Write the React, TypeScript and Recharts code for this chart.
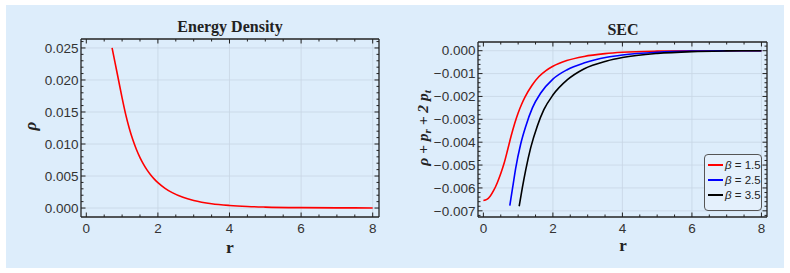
import React from 'react';
import { LineChart, Line, XAxis, YAxis, ReferenceLine, Legend } from 'recharts';

// ---------- data ----------
const rEnergy = [0.72, 0.8, 0.9, 1.0, 1.1, 1.2, 1.3, 1.4, 1.5, 1.6, 1.7, 1.8, 1.9, 2.0, 2.2, 2.4, 2.7, 3.0, 3.5, 4.0, 4.5, 5.0, 6.0, 7.0, 8.0];
const rhoEnergy = [0.025, 0.0228, 0.02, 0.0172, 0.01462, 0.01246, 0.01065, 0.00914, 0.00788, 0.00682, 0.00592, 0.00516, 0.00452, 0.00397, 0.00308, 0.0024, 0.00167, 0.00118, 0.00067, 0.0004, 0.00024, 0.00015, 0.00006, 0.000026, 0.000012];

const rBeta15 = [0.0, 0.1, 0.2, 0.3, 0.4, 0.5, 0.6, 0.7, 0.8, 0.9, 1.0, 1.1, 1.2, 1.4, 1.6, 1.8, 2.0, 2.4, 2.9, 3.5, 4.0, 5.0, 6.0, 8.0];
const secBeta15 = [-0.00655, -0.0065, -0.00635, -0.0061, -0.00577, -0.00537, -0.0049, -0.00432, -0.00372, -0.00318, -0.00272, -0.00234, -0.00202, -0.00151, -0.00113, -0.00087, -0.00068, -0.00043, -0.00025, -0.00013, -0.00007, -0.00002, -0.000005, 0.0];

const rBeta25 = [0.76, 0.84, 0.93, 1.07, 1.22, 1.41, 1.65, 2.0, 2.41, 2.89, 3.55, 4.0, 5.0, 6.0, 7.0, 8.0];
const secBeta25 = [-0.00677, -0.006, -0.00513, -0.0041, -0.0033, -0.0025, -0.00185, -0.00124, -0.00083, -0.00054, -0.00029, -0.00019, -0.00007, -0.00002, -0.000005, 0.0];

const rBeta35 = [1.03, 1.12, 1.22, 1.36, 1.55, 1.74, 2.0, 2.41, 2.89, 3.55, 4.0, 5.0, 6.0, 7.0, 8.0];
const secBeta35 = [-0.0068, -0.006, -0.0052, -0.00425, -0.0033, -0.00258, -0.00194, -0.00128, -0.0008, -0.00045, -0.0003, -0.00012, -0.00004, -0.00001, 0.0];

const betaLabels = ['β = 1.5', 'β = 2.5', 'β = 3.5'];
const betaColors = ['#ff0000', '#0000ff', '#000000'];

const xMajorTicks = [0, 2, 4, 6, 8];
const rhoMajorTicks = [0, 0.005, 0.01, 0.015, 0.02, 0.025];
const secMajorTicks = [0, -0.001, -0.002, -0.003, -0.004, -0.005, -0.006, -0.007];

const zip = (xs: number[], ys: number[]) => xs.map((r, i) => ({ r, v: ys[i] }));
const energyData = zip(rEnergy, rhoEnergy);
const secSeries = [zip(rBeta15, secBeta15), zip(rBeta25, secBeta25), zip(rBeta35, secBeta35)];

// axis tick positions (majors + minors)
const steps = (a: number, b: number, s: number) => {
  const out: number[] = [];
  const n = Math.round((b - a) / s);
  for (let i = 0; i <= n; i++) out.push(+(a + i * s).toFixed(6));
  return out;
};
const xAllTicks = steps(0, 8, 0.5);
const rhoAllTicks = steps(0, 0.026, 0.001);
const secAllTicks = steps(-0.0072, 0.0002, 0.0002);

// ---------- styles ----------
const BG = '#ddedfb';
const FRAME = '#222';
const GRID = '#c8d6e4';
const TICKFONT = '"Liberation Sans", Arial, sans-serif';
const SERIF = '"Liberation Serif", "Times New Roman", serif';

const fmtRho = (v: number) => v.toFixed(3);
const fmtSec = (v: number) => (Math.abs(v) < 1e-12 ? '0.000' : (v < 0 ? '\u2212' : '') + Math.abs(v).toFixed(3));
const fmtX = (v: number) => String(v);

const isMajor = (v: number, majors: number[]) => majors.some((m) => Math.abs(m - v) < 1e-9);

const makeTick = (side: 'bottom' | 'top' | 'left' | 'right', majors: number[], fmt: (v: number) => string, labels: boolean) =>
  (props: any) => {
    const { x, y, payload } = props;
    const v = payload.value as number;
    const major = isMajor(v, majors);
    const L = major ? 4.5 : 2.5;
    let line: [number, number, number, number];
    if (side === 'bottom') line = [x, y, x, y - L];
    else if (side === 'top') line = [x, y, x, y + L];
    else if (side === 'left') line = [x, y, x + L, y];
    else line = [x, y, x - L, y];
    let label = null;
    if (labels && major) {
      if (side === 'bottom')
        label = (
          <text x={x} y={y + 15.5} textAnchor="middle" fontFamily={TICKFONT} fontSize={13.5} fill="#333">
            {fmt(v)}
          </text>
        );
      else if (side === 'left')
        label = (
          <text x={x - 2.5} y={y + 4.7} textAnchor="end" fontFamily={TICKFONT} fontSize={13.5} fill="#333">
            {fmt(v)}
          </text>
        );
    }
    return (
      <g>
        <line x1={line[0]} y1={line[1]} x2={line[2]} y2={line[3]} stroke={FRAME} strokeWidth={1} />
        {label}
      </g>
    );
  };

const FixedText = (p: any) => (
  <text x={p.px} y={p.py} textAnchor="middle" fontFamily={SERIF} fontWeight="bold" fontSize={p.fs || 15} fill="#222">
    {p.txt}
  </text>
);

const RhoLabel = (p: any) => (
  <text x={p.px} y={p.py} textAnchor="middle" fontFamily={SERIF} fontWeight="bold" fontStyle="italic" fontSize={17} fill="#222" transform={`rotate(-90, ${p.px}, ${p.py})`}>
    ρ
  </text>
);

const SecLabel = (p: any) => (
  <text x={p.px} y={p.py} textAnchor="middle" fontFamily={SERIF} fontWeight="bold" fontStyle="italic" fontSize={15.5} fill="#222" transform={`rotate(-90, ${p.px}, ${p.py})`}>
    ρ + p<tspan dy={3} fontSize={11}>r</tspan>
    <tspan dy={-3}> + 2 p</tspan>
    <tspan dy={3} fontSize={11}>t</tspan>
  </text>
);

const LegendBox = (props: any) => {
  const payload = props.payload || [];
  return (
    <div
      style={{
        boxSizing: 'border-box',
        width: 58,
        height: 57,
        border: '1px solid #555',
        borderRadius: 4,
        background: '#e4f0fc',
        padding: '2px 0 0 3px',
        fontFamily: TICKFONT,
        fontSize: 11.5,
        color: '#222',
      }}
    >
      {payload.map((p: any, i: number) => {
        const idx = betaLabels.indexOf(String(p.value));
        const col = idx >= 0 ? betaColors[idx] : p.color;
        return (
          <div key={i} style={{ display: 'flex', alignItems: 'center', height: 15 }}>
            <span style={{ display: 'inline-block', width: 15, height: 2, background: col, marginRight: 2 }} />
            <span>
              <i>{String(p.value).charAt(0)}</i>
              {String(p.value).slice(1)}
            </span>
          </div>
        );
      })}
    </div>
  );
};

function EnergyChart() {
  const xDomain: [number, number] = [-0.148, 8.176];
  const yDomain: [number, number] = [-0.0014, 0.0264];
  return (
    <LineChart width={395} height={273} margin={{ top: 0, right: 0, bottom: 0, left: 0 }}>
      <XAxis xAxisId="b" dataKey="r" type="number" orientation="bottom" height={56} domain={xDomain} allowDataOverflow ticks={xAllTicks} interval={0} tickSize={0} tickMargin={0} tickLine={false} axisLine={{ stroke: FRAME, strokeWidth: 1.3 }} tick={makeTick('bottom', xMajorTicks, fmtX, true)} label={<FixedText px={230} py={253} txt="r" fs={17.5} />} />
      <XAxis xAxisId="t" dataKey="r" type="number" orientation="top" height={39} domain={xDomain} allowDataOverflow ticks={xAllTicks} interval={0} tickSize={0} tickMargin={0} tickLine={false} axisLine={{ stroke: FRAME, strokeWidth: 1.3 }} tick={makeTick('top', xMajorTicks, fmtX, false)} label={<FixedText px={230} py={32} txt="Energy Density" fs={16} />} />
      <YAxis yAxisId="l" type="number" orientation="left" width={81} domain={yDomain} allowDataOverflow ticks={rhoAllTicks} interval={0} tickSize={0} tickMargin={0} tickLine={false} axisLine={{ stroke: FRAME, strokeWidth: 1.3 }} tick={makeTick('left', rhoMajorTicks, fmtRho, true)} label={<RhoLabel px={36} py={126} />} />
      <YAxis yAxisId="r" type="number" orientation="right" width={16} domain={yDomain} allowDataOverflow ticks={rhoAllTicks} interval={0} tickSize={0} tickMargin={0} tickLine={false} axisLine={{ stroke: FRAME, strokeWidth: 1.3 }} tick={makeTick('right', rhoMajorTicks, fmtRho, false)} />
      {xMajorTicks.slice(1).map((t) => (
        <ReferenceLine key={'gx' + t} x={t} xAxisId="b" yAxisId="l" stroke={GRID} strokeWidth={0.8} />
      ))}
      {rhoMajorTicks.map((t) => (
        <ReferenceLine key={'gy' + t} y={t} xAxisId="b" yAxisId="l" stroke={GRID} strokeWidth={0.8} />
      ))}
      <Line xAxisId="b" yAxisId="l" data={energyData} dataKey="v" type="monotone" stroke="#ff0000" strokeWidth={1.6} dot={false} isAnimationActive={false} />
    </LineChart>
  );
}

function SecChart() {
  const xDomain: [number, number] = [-0.155, 8.16];
  const yDomain: [number, number] = [-0.00727, 0.00038];
  return (
    <LineChart width={395} height={273} margin={{ top: 0, right: 0, bottom: 0, left: 0 }}>
      <XAxis xAxisId="b" dataKey="r" type="number" orientation="bottom" height={56} domain={xDomain} allowDataOverflow ticks={xAllTicks} interval={0} tickSize={0} tickMargin={0} tickLine={false} axisLine={{ stroke: FRAME, strokeWidth: 1.3 }} tick={makeTick('bottom', xMajorTicks, fmtX, true)} label={<FixedText px={228} py={251} txt="r" fs={17} />} />
      <XAxis xAxisId="t" dataKey="r" type="number" orientation="top" height={42} domain={xDomain} allowDataOverflow ticks={xAllTicks} interval={0} tickSize={0} tickMargin={0} tickLine={false} axisLine={{ stroke: FRAME, strokeWidth: 1.3 }} tick={makeTick('top', xMajorTicks, fmtX, false)} label={<FixedText px={228} py={35} txt="SEC" fs={16} />} />
      <YAxis yAxisId="l" type="number" orientation="left" width={83} domain={yDomain} allowDataOverflow ticks={secAllTicks} interval={0} tickSize={0} tickMargin={0} tickLine={false} axisLine={{ stroke: FRAME, strokeWidth: 1.3 }} tick={makeTick('left', secMajorTicks, fmtSec, true)} label={<SecLabel px={33} py={128} />} />
      <YAxis yAxisId="r" type="number" orientation="right" width={23} domain={yDomain} allowDataOverflow ticks={secAllTicks} interval={0} tickSize={0} tickMargin={0} tickLine={false} axisLine={{ stroke: FRAME, strokeWidth: 1.3 }} tick={makeTick('right', secMajorTicks, fmtSec, false)} />
      {xMajorTicks.slice(1).map((t) => (
        <ReferenceLine key={'gx' + t} x={t} xAxisId="b" yAxisId="l" stroke={GRID} strokeWidth={0.8} />
      ))}
      {secMajorTicks.map((t) => (
        <ReferenceLine key={'gy' + t} y={t} xAxisId="b" yAxisId="l" stroke={GRID} strokeWidth={0.8} />
      ))}
      {secSeries.map((d, i) => (
        <Line key={betaLabels[i]} name={betaLabels[i]} xAxisId="b" yAxisId="l" data={d} dataKey="v" type="monotone" stroke={betaColors[i]} strokeWidth={1.6} dot={false} isAnimationActive={false} />
      ))}
      <Legend layout="horizontal" verticalAlign="middle" align="center" width={58} content={<LegendBox />} wrapperStyle={{ position: 'absolute', left: 309, top: 154, width: 58, height: 57 }} />
    </LineChart>
  );
}

export default function App() {
  return (
    <div style={{ position: 'absolute', left: 0, top: 0, width: 790, height: 273, background: '#fff', overflow: 'hidden' }}>
      <div style={{ position: 'absolute', left: 6, top: 5, width: 778, height: 263, background: BG }} />
      <div style={{ position: 'absolute', left: 0, top: 0 }}>
        <EnergyChart />
      </div>
      <div style={{ position: 'absolute', left: 395, top: 0 }}>
        <SecChart />
      </div>
    </div>
  );
}
